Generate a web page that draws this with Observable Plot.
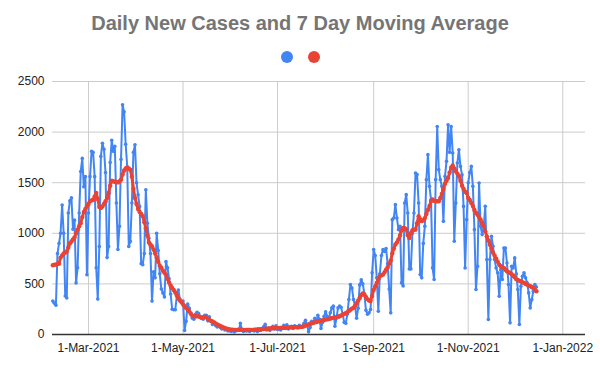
<!DOCTYPE html>
<html>
<head>
<meta charset="utf-8">
<script src="https://cdn.jsdelivr.net/npm/d3@7"></script>
<script src="https://cdn.jsdelivr.net/npm/@observablehq/plot@0.6"></script>
<style>
  html, body { margin: 0; padding: 0; background: #fff; }
  #wrap { position: relative; width: 600px; height: 370px; font-family: "Liberation Sans", Arial, sans-serif; }
  #title { position: absolute; left: 0; top: 12px; width: 600px; text-align: center; font-size: 20px; font-weight: bold; color: #757575; }
  #legend { position: absolute; left: 0; top: 51px; width: 600px; height: 12px; }
  .ld { position: absolute; width: 12px; height: 12px; border-radius: 50%; }
  #chart { position: absolute; left: 0; top: 0; }
</style>
</head>
<body>
<div id="wrap">
  <div id="chart"></div>
  <div id="title">Daily New Cases and 7 Day Moving Average</div>
  <div id="legend"><span class="ld" style="left:281px;background:#4285F4"></span><span class="ld" style="left:308px;background:#EA4335"></span></div>
</div>
<script>
const startDate = "2021-02-06";

const dailyCases = [
  330, 310, 290, 800, 900, 1000, 1280, 1000, 380, 360,
  1200, 1320, 1350, 1040, 1130, 510, 660, 1200, 1610, 1740,
  1460, 1560, 590, 1200, 1560, 1810, 1800, 1560, 660, 350,
  870, 1760, 1890, 1830, 1600, 760, 870, 1700, 1920, 1810,
  1860, 1300, 840, 1070, 1730, 2270, 2200, 1880, 1660, 870,
  920, 1300, 1800, 1875, 1500, 1380, 1266, 700, 690, 800,
  1430, 1100, 950, 800, 330, 620, 560, 1000, 830, 600,
  450, 410, 370, 720, 660, 550, 400, 250, 245, 245,
  380, 440, 350, 320, 330, 40, 130, 300, 260, 210,
  160, 150, 200, 220, 210, 180, 160, 150, 190, 190,
  135, 175, 130, 100, 115, 90, 75, 85, 70, 55,
  60, 45, 50, 35, 40, 30, 45, 25, 35, 50,
  40, 110, 45, 30, 40, 35, 50, 30, 45, 40,
  35, 50, 30, 55, 40, 60, 75, 100, 45, 55,
  40, 65, 80, 55, 85, 50, 60, 45, 70, 90,
  60, 95, 55, 70, 80, 60, 85, 75, 65, 90,
  70, 80, 110, 140, 90, 26, 70, 130, 110, 160,
  120, 190, 150, 60, 120, 180, 225, 180, 148, 214,
  263, 280, 82, 160, 263, 280, 270, 200, 120, 110,
  200, 345, 493, 460, 345, 280, 160, 260, 490, 540,
  500, 400, 240, 200, 214, 247, 609, 839, 780, 560,
  230, 600, 780, 839, 820, 850, 700, 450, 214, 1135,
  1151, 1283, 1150, 1036, 1069, 510, 480, 1300, 1382, 1200,
  648, 648, 1000, 1200, 1596, 1580, 1300, 592, 560, 900,
  1069, 1530, 1777, 1464, 1332, 658, 543, 1530, 2056, 1629,
  1530, 1464, 1118, 1563, 1711, 2072, 1800, 2056, 1794, 921,
  1300, 1694, 1826, 1661, 1579, 1266, 658, 1135, 1500, 1600,
  1661, 1464, 1036, 444, 674, 1497, 1069, 987, 1069, 1267,
  740, 148, 740, 970, 872, 740, 658, 609, 378, 641,
  543, 855, 855, 707, 493, 115, 674, 658, 757, 600,
  444, 99, 477, 576, 609, 560, 510, 411, 263, 345,
  428, 493, 470
];

const movingAverage = [
  684, 690, 690, 697, 700, 760, 780, 800, 810, 820,
  860, 900, 920, 940, 960, 1000, 1036, 1070, 1100, 1160,
  1210, 1240, 1266, 1290, 1316, 1325, 1332, 1365, 1398, 1340,
  1260, 1250, 1266, 1290, 1316, 1350, 1398, 1470, 1520, 1513,
  1510, 1505, 1503, 1515, 1530, 1580, 1620, 1640, 1645, 1640,
  1628, 1560, 1440, 1350, 1290, 1240, 1210, 1190, 1170, 1110,
  1050, 980, 910, 890, 870, 840, 800, 760, 720, 680,
  660, 630, 610, 590, 550, 515, 485, 460, 440, 415,
  385, 355, 335, 320, 300, 280, 263, 245, 230, 205,
  185, 180, 180, 180, 180, 172, 165, 170, 175, 170,
  155, 145, 135, 128, 120, 110, 100, 92, 84, 76,
  70, 64, 58, 54, 50, 48, 47, 46, 46, 46,
  47, 48, 47, 46, 45, 45, 45, 45, 46, 46,
  47, 48, 49, 50, 51, 53, 55, 57, 58, 59,
  60, 61, 62, 62, 63, 63, 64, 64, 65, 66,
  67, 68, 69, 70, 71, 72, 73, 73, 73, 74,
  75, 77, 82, 88, 94, 100, 106, 111, 116, 120,
  124, 128, 132, 136, 140, 144, 148, 150, 154, 158,
  162, 165, 168, 172, 176, 180, 188, 196, 204, 210,
  220, 232, 245, 256, 265, 285, 310, 335, 360, 390,
  405, 395, 370, 350, 335, 330, 380, 440, 475, 510,
  545, 575, 585, 592, 615, 640, 665, 700, 730, 800,
  850, 890, 910, 940, 980, 1030, 1053, 1050, 1040, 980,
  954, 1000, 1030, 1036, 1036, 1100, 1168, 1140, 1120, 1130,
  1150, 1190, 1230, 1270, 1320, 1335, 1320, 1316, 1316, 1316,
  1350, 1390, 1440, 1490, 1520, 1546, 1600, 1650, 1671, 1640,
  1612, 1590, 1565, 1520, 1470, 1440, 1410, 1398, 1350, 1330,
  1300, 1270, 1230, 1200, 1184, 1160, 1135, 1100, 1069, 1020,
  970, 930, 888, 850, 810, 780, 750, 720, 690, 674,
  665, 658, 640, 625, 615, 609, 595, 580, 565, 545,
  540, 530, 526, 518, 510, 500, 493, 485, 477, 470,
  460, 445, 428
];

const xTickLabels = ["2021-03-01", "2021-05-01", "2021-07-01", "2021-09-01", "2021-11-01", "2022-01-01"];
const yTickValues = [0, 500, 1000, 1500, 2000, 2500];
const xDomain = ["2021-02-05T19:00:00Z", "2022-01-15T16:00:00Z"];

const start = new Date(startDate + "T00:00:00Z");
const rows = dailyCases.map((v, i) => ({
  date: d3.utcDay.offset(start, i),
  cases: v,
  avg: movingAverage[i]
}));
const xTicks = xTickLabels.map(s => new Date(s + "T00:00:00Z"));
const fmt = d3.utcFormat("%-d-%b-%Y");

const chart = Plot.plot({
  width: 600,
  height: 370,
  marginTop: 81,
  marginBottom: 36,
  marginLeft: 52,
  marginRight: 15,
  style: { fontFamily: "'Liberation Sans', Arial, sans-serif", fontSize: "12px", color: "#222", background: "transparent" },
  x: { type: "utc", domain: xDomain.map(s => new Date(s)) },
  y: { domain: [0, 2500] },
  marks: [
    Plot.gridX(xTicks, { stroke: "#cccccc", strokeOpacity: 1 }),
    Plot.gridY(yTickValues, { stroke: "#cccccc", strokeOpacity: 1 }),
    Plot.axisX(xTicks, { tickSize: 0, tickPadding: 9, tickFormat: fmt, fontSize: 12, fill: "#222" }),
    Plot.axisY(yTickValues, { tickSize: 0, tickPadding: 8, tickFormat: d3.format("d"), fontSize: 12, fill: "#222" }),
    Plot.ruleY([0], { stroke: "#333333", strokeWidth: 1.5 }),
    Plot.line(rows, { x: "date", y: "cases", stroke: "#4285F4", strokeWidth: 2 }),
    Plot.dot(rows, { x: "date", y: "cases", r: 1.8, fill: "#4285F4" }),
    Plot.line(rows, { x: "date", y: "avg", stroke: "#EA4335", strokeWidth: 3 }),
    Plot.dot(rows, { x: "date", y: "avg", r: 2.2, fill: "#EA4335" })
  ]
});
document.getElementById("chart").appendChild(chart);
</script>
</body>
</html>
